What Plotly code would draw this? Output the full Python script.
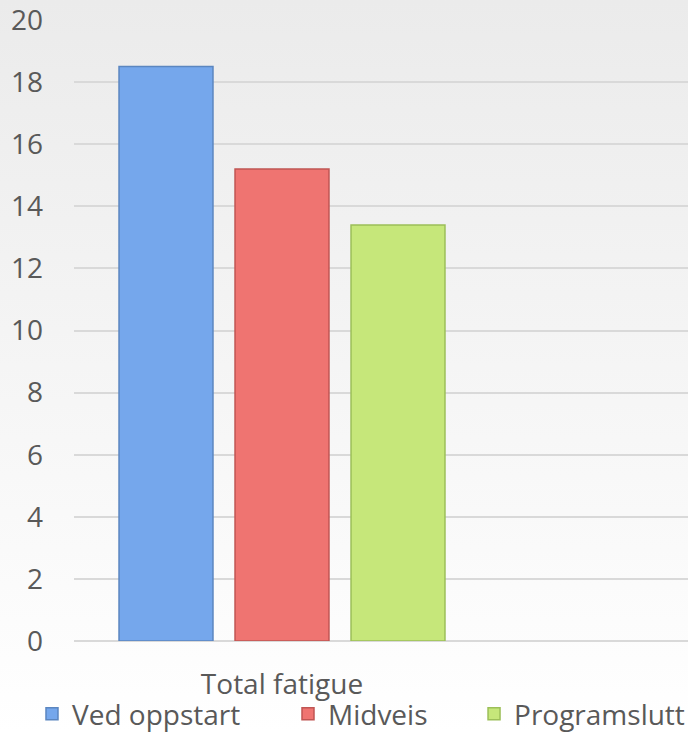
import base64
import plotly.graph_objects as go

categories = ["Total fatigue"]
series_names = ["Ved oppstart", "Midveis", "Programslutt"]
series_values = [[18.5], [15.2], [13.4]]
series_colors = ["#75a7ec", "#ef7471", "#c6e77a"]
series_edges = ["#5b86c0", "#c05553", "#9cbf58"]
y_ticks = [0, 2, 4, 6, 8, 10, 12, 14, 16, 18, 20]
legend_x = [0.0465, 0.4186, 0.689]

FONT = "Open Sans"
W, H = 688, 732
ML, MR, MT, MB = 74, 0, 20, 91

fig = go.Figure()
for i, (name, vals, col, edge) in enumerate(zip(series_names, series_values, series_colors, series_edges)):
    fig.add_trace(go.Bar(
        x=categories, y=vals, name=name, showlegend=True,
        marker=dict(color=col, line=dict(color=edge, width=1.5)),
        legend="legend" if i == 0 else f"legend{i+1}",
    ))

# background gradient (paper-wide)
svg = ('<svg xmlns="http://www.w3.org/2000/svg" width="10" height="100" preserveAspectRatio="none">'
       '<defs><linearGradient id="g" x1="0" y1="0" x2="0" y2="1">'
       '<stop offset="0" stop-color="#ebebeb"/><stop offset="0.9" stop-color="#fdfdfd"/>'
       '<stop offset="1" stop-color="#ffffff"/></linearGradient></defs>'
       '<rect width="10" height="100" fill="url(#g)"/></svg>')
src = "data:image/svg+xml;base64," + base64.b64encode(svg.encode()).decode()
pw, ph = W - ML - MR, H - MT - MB
fig.add_layout_image(dict(
    source=src, xref="paper", yref="paper",
    x=-ML / pw, y=1 + MT / ph, sizex=W / pw, sizey=H / ph,
    xanchor="left", yanchor="top", sizing="stretch", layer="below",
))

# pixel geometry for the category axis
group_px = 348.0
center_px = 282.0
x_lo = -(center_px - ML) / group_px
x_hi = (W - center_px) / group_px

legend_common = dict(orientation="h", xref="container", yref="container",
                     y=0.0246, yanchor="middle", xanchor="left",
                     bgcolor="rgba(0,0,0,0)",
                     font=dict(family=FONT, size=28, color="#595959"))

fig.update_layout(
    width=W, height=H,
    margin=dict(l=ML, r=MR, t=MT, b=MB, autoexpand=False),
    paper_bgcolor="rgba(0,0,0,0)", plot_bgcolor="rgba(0,0,0,0)",
    barmode="group", bargap=0.0, bargroupgap=0.19,
    font=dict(family=FONT, size=28, color="#595959"),
    showlegend=True,
    xaxis=dict(type="category", range=[x_lo, x_hi], showgrid=False,
               showline=False, ticks="", tickfont=dict(size=28, color="#595959"),
               ticklabelstandoff=24, zeroline=False, automargin=False),
    yaxis=dict(range=[0, 20], tickvals=y_ticks, showgrid=True,
               gridcolor="#d9d9d9", gridwidth=1.5, zeroline=True,
               zerolinecolor="#d9d9d9", zerolinewidth=1.5,
               ticks="", showline=False, ticklabelstandoff=30,
               ticklabeloverflow="allow", automargin=False,
               tickfont=dict(size=28, color="#595959")),
    legend=dict(x=legend_x[0], **legend_common),
    legend2=dict(x=legend_x[1], **legend_common),
    legend3=dict(x=legend_x[2], **legend_common),
)

fig.write_html("out.html")
